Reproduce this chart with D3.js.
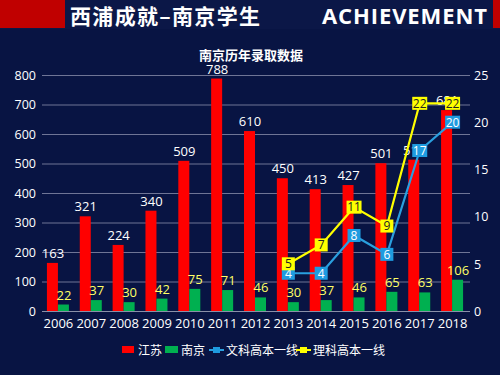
<!DOCTYPE html>
<html><head><meta charset="utf-8">
<script src="https://cdn.jsdelivr.net/npm/d3@7/dist/d3.min.js"></script>
<style>
html,body{margin:0;padding:0;background:#081443;}
svg{display:block;}
</style></head>
<body>
<svg id="c" width="500" height="375"></svg>
<script>
const years = ["2006","2007","2008","2009","2010","2011","2012","2013","2014","2015","2016","2017","2018"];
const jiangsu = [163,321,224,340,509,788,610,450,413,427,501,513,681];
const nanjing = [22,37,30,42,75,71,46,30,37,46,65,63,106];
const wenke = [null,null,null,null,null,null,null,4,4,8,6,17,20];
const like  = [null,null,null,null,null,null,null,5,7,11,9,22,22];
const leftTicks = [0,100,200,300,400,500,600,700,800];
const rightTicks = [0,5,10,15,20,25];
const legendNames = ["江苏","南京","文科高本一线","理科高本一线"];

const svg = d3.select("#c");
const W = 500, H = 375;
const cjk = "'Noto Sans CJK SC','Noto Sans',sans-serif";
const num = "'Open Sans','Noto Sans',sans-serif";

svg.append("rect").attr("width",W).attr("height",H).attr("fill","#081443");
// header
svg.append("rect").attr("x",0).attr("y",0).attr("width",W).attr("height",29).attr("fill","#0b1747");
svg.append("rect").attr("x",0).attr("y",0).attr("width",65).attr("height",28).attr("fill","#c00000");
svg.append("rect").attr("x",493).attr("y",0).attr("width",7).attr("height",28).attr("fill","#c00000");
svg.append("text").attr("x",70).attr("y",24).attr("fill","#fff").attr("font-family",cjk)
  .attr("font-weight","bold").attr("font-size",21).attr("textLength",190).text("西浦成就–南京学生");
svg.append("text").attr("x",322).attr("y",24).attr("fill","#fff").attr("font-family",num)
  .attr("font-weight","bold").attr("font-size",22).attr("textLength",165).text("ACHIEVEMENT");
svg.append("text").attr("x",251).attr("y",60).attr("text-anchor","middle").attr("fill","#fff")
  .attr("font-family",cjk).attr("font-weight","bold").attr("font-size",13).text("南京历年录取数据");

const x0 = 42, x1 = 469, yTop = 75, yBot = 311;
const x = d3.scaleBand().domain(years).range([x0,x1]).paddingInner(0).paddingOuter(0);
const y = d3.scaleLinear().domain([0,800]).range([yBot,yTop]);
const y2 = d3.scaleLinear().domain([0,25]).range([yBot,yTop]);

// grid
svg.append("g").selectAll("line").data(leftTicks).join("line")
  .attr("x1",x0).attr("x2",x1+1).attr("y1",d=>y(d)+0.5).attr("y2",d=>y(d)+0.5)
  .attr("stroke",d=>d===0?"#8a90a8":"#6f7596").attr("stroke-width",1);

// left axis labels
const la = svg.append("g").attr("transform",`translate(${x0-6},0)`)
  .call(d3.axisLeft(y).tickValues(leftTicks).tickSize(0).tickPadding(0));
la.select(".domain").remove();
la.selectAll("text").attr("fill","#fff").attr("font-family",num).attr("font-size",12.5).attr("dy","0.35em");
// right axis labels
const ra = svg.append("g").attr("transform",`translate(${x1+5},0)`)
  .call(d3.axisRight(y2).tickValues(rightTicks).tickSize(0).tickPadding(0));
ra.select(".domain").remove();
ra.selectAll("text").attr("fill","#fff").attr("font-family",num).attr("font-size",12.5).attr("dy","0.35em");
// x axis labels
const xa = svg.append("g").attr("transform",`translate(0,${yBot+7})`)
  .call(d3.axisBottom(x).tickSize(0).tickPadding(0));
xa.select(".domain").remove();
xa.selectAll("text").attr("fill","#fff").attr("font-family",num).attr("font-size",13).attr("dy","0.8em");

const bw = 11;
const cx = d => x(d) + x.bandwidth()/2;
// red bars
svg.append("g").selectAll("rect").data(years).join("rect")
  .attr("x",(d)=>cx(d)-bw-0.5).attr("width",bw)
  .attr("y",(d,i)=>y(jiangsu[i])).attr("height",(d,i)=>yBot-y(jiangsu[i]))
  .attr("fill","#ff0000");
// green bars
svg.append("g").selectAll("rect").data(years).join("rect")
  .attr("x",(d)=>cx(d)-0.5).attr("width",bw)
  .attr("y",(d,i)=>y(nanjing[i])).attr("height",(d,i)=>yBot-y(nanjing[i]))
  .attr("fill","#00b050");
// red labels
svg.append("g").selectAll("text").data(years).join("text")
  .attr("x",d=>cx(d)-bw/2).attr("y",(d,i)=>y(jiangsu[i])-5)
  .attr("text-anchor","middle").attr("fill","#fff").attr("font-family",num).attr("font-size",13)
  .text((d,i)=>jiangsu[i]);
// green labels
svg.append("g").selectAll("text").data(years).join("text")
  .attr("x",d=>cx(d)+bw/2).attr("y",(d,i)=>y(nanjing[i])-5)
  .attr("text-anchor","middle").attr("fill","#ffff66").attr("font-family",num).attr("font-size",13)
  .text((d,i)=>nanjing[i]);

function drawLine(vals, color, markColor, textColor){
  const pts = years.map((d,i)=>({d,v:vals[i]})).filter(p=>p.v!==null);
  const line = d3.line().x(p=>cx(p.d)).y(p=>y2(p.v));
  svg.append("path").datum(pts).attr("d",line).attr("fill","none")
    .attr("stroke",color).attr("stroke-width",2.2);
  const g = svg.append("g").selectAll("g").data(pts).join("g")
    .attr("transform",p=>`translate(${cx(p.d)},${y2(p.v)})`);
  g.append("rect").attr("x",p=>String(p.v).length>1?-7.5:-6.5).attr("y",-6.5)
    .attr("width",p=>String(p.v).length>1?15:13).attr("height",13).attr("fill",markColor);
  g.append("text").attr("text-anchor","middle").attr("dy","0.36em")
    .attr("fill",textColor).attr("font-family",num).attr("font-size",12).text(p=>p.v);
}
drawLine(wenke,"#2a9fdf","#1e9be0","#fff");
drawLine(like,"#ffff00","#ffff00","#222");

// legend
const lg = svg.append("g").attr("font-family",cjk).attr("font-size",12).attr("fill","#fff");
lg.append("rect").attr("x",122).attr("y",346).attr("width",12).attr("height",7).attr("fill","#ff0000");
lg.append("text").attr("x",138).attr("y",355).text(legendNames[0]);
lg.append("rect").attr("x",165).attr("y",346).attr("width",13).attr("height",7).attr("fill","#00b050");
lg.append("text").attr("x",181).attr("y",355).text(legendNames[1]);
lg.append("line").attr("x1",209).attr("x2",224).attr("y1",350).attr("y2",350).attr("stroke","#2a9fdf").attr("stroke-width",2);
lg.append("rect").attr("x",213).attr("y",347).attr("width",7).attr("height",6).attr("fill","#1e9be0");
lg.append("text").attr("x",226).attr("y",355).text(legendNames[2]);
lg.append("line").attr("x1",296).attr("x2",311).attr("y1",350).attr("y2",350).attr("stroke","#ffff00").attr("stroke-width",2);
lg.append("rect").attr("x",300).attr("y",347).attr("width",7).attr("height",6).attr("fill","#ffff00");
lg.append("text").attr("x",313).attr("y",355).text(legendNames[3]);
</script>
</body></html>
